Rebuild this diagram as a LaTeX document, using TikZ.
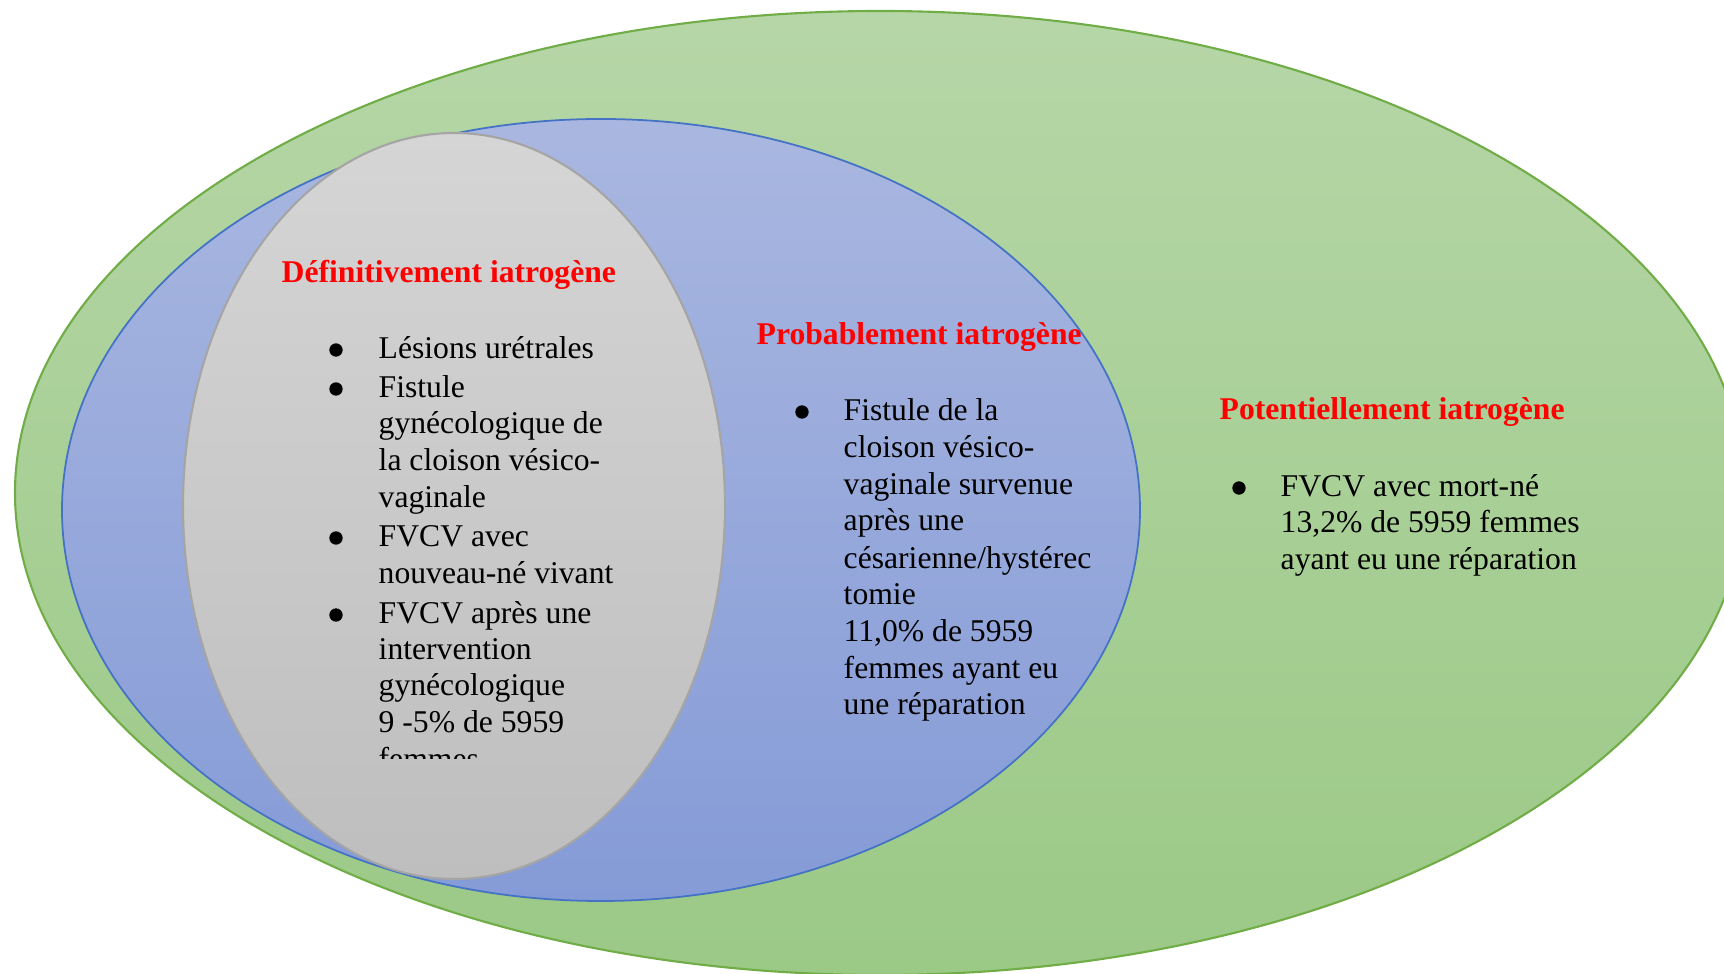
\documentclass[tikz,border=0pt]{standalone}
\usepackage{fontspec}
\setmainfont{Liberation Serif}
\usetikzlibrary{positioning}

\definecolor{outergreen}{HTML}{70AD47}
\definecolor{greentop}{HTML}{B6D6A7}
\definecolor{greenbot}{HTML}{9BC986}
\definecolor{midblue}{HTML}{4472C4}
\definecolor{bluetop}{HTML}{A9B7E0}
\definecolor{bluebot}{HTML}{859BD7}
\definecolor{innergrey}{HTML}{A5A5A5}
\definecolor{greytop}{HTML}{D5D5D5}
\definecolor{greybot}{HTML}{BEBEBE}
\definecolor{titlered}{HTML}{FF0000}

\tikzset{
  heading/.style={anchor=base west, inner sep=0pt, text=titlered, font=\fontsize{9}{10.5}\selectfont\bfseries},
  line/.style={anchor=base west, inner sep=0pt, font=\fontsize{9}{10.5}\selectfont},
  bulletmark/.style={circle, fill=black, inner sep=0pt, minimum size=3.8pt}
}

\begin{document}
\begin{tikzpicture}[x=0.01cm, y=-0.01cm]

\clip (0,0) rectangle (1724,974);

% the three sets
\draw [outergreen, line width=0.6pt, top color=greentop, bottom color=greenbot] (880,493) ellipse [x radius=865, y radius=482];
\draw [midblue, line width=0.5pt, top color=bluetop, bottom color=bluebot] (601,510) ellipse [x radius=539, y radius=391];
\draw [innergrey, line width=0.6pt, top color=greytop, bottom color=greybot] (454,506) ellipse [x radius=271, y radius=373];

% definitivement
\node [heading] (defTitle) at (281,283) {Définitivement iatrogène};

\node [bulletmark] (defB1) at (336,350) {};
\node [bulletmark] (defB2) at (336,389) {};
\node [bulletmark] (defB3) at (336,538) {};
\node [bulletmark] (defB4) at (336,615) {};

\node [line] (def1) at (378,359) {Lésions urétrales};
\node [line] (def2) at (378,398) {Fistule};
\node [line] (def3) at (378,434) {gynécologique de};
\node [line] (def4) at (378,471) {la cloison vésico-};
\node [line] (def5) at (378,508) {vaginale};
\node [line] (def6) at (378,547) {FVCV avec};
\node [line] (def7) at (378,584) {nouveau-né vivant};
\node [line] (def8) at (378,624) {FVCV après une};
\node [line] (def9) at (378,660) {intervention};
\node [line] (def10) at (378,696) {gynécologique};
\node [line] (def11) at (378,733) {9 -5\% de 5959};
\begin{scope}
\clip (300,740) rectangle (700,759);
\node [line] (def12) at (378,770) {femmes};
\end{scope}

% probablement
\node [heading] (probTitle) at (756,345) {Probablement iatrogène};

\node [bulletmark] (probB1) at (802,412) {};

\node [line] (prob1) at (843,421) {Fistule de la};
\node [line] (prob2) at (843,458) {cloison vésico-};
\node [line] (prob3) at (843,495) {vaginale survenue};
\node [line] (prob4) at (843,531) {après une};
\node [line] (prob5) at (843,569) {césarienne/hystérec};
\node [line] (prob6) at (843,605) {tomie};
\node [line] (prob7) at (843,642) {11,0\% de 5959};
\node [line] (prob8) at (843,679) {femmes ayant eu};
\node [line] (prob9) at (843,715) {une réparation};

% potentiellement
\node [heading] (potTitle) at (1219,420) {Potentiellement iatrogène};

\node [bulletmark] (potB1) at (1239,488) {};

\node [line] (pot1) at (1280,497) {FVCV avec mort-né};
\node [line] (pot2) at (1280,533) {13,2\% de 5959 femmes};
\node [line] (pot3) at (1280,570) {ayant eu une réparation};

\end{tikzpicture}
\end{document}
